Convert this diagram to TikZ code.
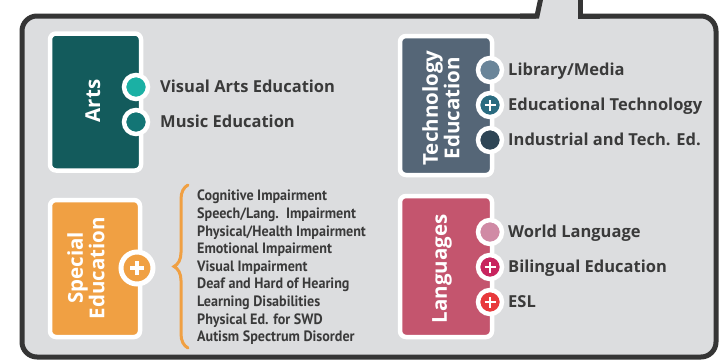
\documentclass[tikz,border=0pt]{standalone}
\usepackage{fontspec}
\setmainfont{Open Sans}
\newfontfamily\condfont[FakeStretch=0.94]{PT Sans}
\usetikzlibrary{decorations.pathreplacing}
\definecolor{bgfill}{HTML}{DCDDDF}
\definecolor{framec}{HTML}{353535}
\definecolor{txt}{HTML}{3A3A3A}
\definecolor{artsc}{HTML}{135B5C}
\definecolor{visualc}{HTML}{1BB0A4}
\definecolor{musicc}{HTML}{137575}
\definecolor{techc}{HTML}{556677}
\definecolor{libc}{HTML}{6A8599}
\definecolor{edtc}{HTML}{2A6B80}
\definecolor{indc}{HTML}{2E4555}
\definecolor{specc}{HTML}{F0A043}
\definecolor{langc}{HTML}{C4556E}
\definecolor{worldc}{HTML}{D08AA5}
\definecolor{bilc}{HTML}{C8245E}
\definecolor{eslc}{HTML}{E8393C}
\tikzset{
  catbox/.style={draw=white, line width=4.5pt, rounded corners=6pt, inner sep=0pt},
  dot/.style={circle, draw=white, line width=4.5pt, minimum size=24pt, inner sep=0pt},
  plusdot/.style={dot, path picture={
      \draw[white,line width=2.6pt] ([xshift=-5.5pt]path picture bounding box.center) -- ([xshift=5.5pt]path picture bounding box.center);
      \draw[white,line width=2.6pt] ([yshift=-5.5pt]path picture bounding box.center) -- ([yshift=5.5pt]path picture bounding box.center);}},
  bigplus/.style={circle, draw=white, line width=5pt, minimum size=32pt, inner sep=0pt, path picture={
      \draw[white,line width=3.6pt] ([xshift=-7pt]path picture bounding box.center) -- ([xshift=7pt]path picture bounding box.center);
      \draw[white,line width=3.6pt] ([yshift=-7pt]path picture bounding box.center) -- ([yshift=7pt]path picture bounding box.center);}},
  item/.style={anchor=base west, inner sep=0pt, text=txt, font=\bfseries\fontsize{16.5}{16.5}\selectfont},
  catlbl/.style={rotate=90, text=white, align=center, inner sep=0pt, font=\bfseries\fontsize{20.5}{21.5}\selectfont},
}
\begin{document}
\begin{tikzpicture}[x=1pt,y=-1pt]
\useasboundingbox (0,0) rectangle (723,362);
\fill[white] (0,0) rectangle (723,362);
% frame
\draw[framec, fill=bgfill, line width=5pt, rounded corners=15pt] (22,16) rectangle (716,357);
\fill[bgfill] (541.5,-5) -- (536.2,18.8) -- (580,18.8) -- (580,-5) -- cycle;
\draw[framec, line width=5pt] (541.5,-5) -- (537,16) -- (520,16);
\draw[framec, line width=5pt] (580,-5) -- (580,16) -- (600,16);
% Arts
\node[catbox, fill=artsc, minimum width=91pt, minimum height=137pt] (arts) at (95.5,102) {};
\node[catlbl] (artsl) at (93,101) {Arts};
\node[dot, fill=visualc] (vis) at (136,87) {};
\node[dot, fill=musicc] (mus) at (136,122) {};
\node[item] (visl) at (160,92.8) {Visual Arts Education};
\node[item] (musl) at (160,127.8) {Music Education};
% Technology
\node[catbox, fill=techc, minimum width=92pt, minimum height=139pt] (tech) at (446,105.5) {};
\node[catlbl] (techl) at (441,108) {Technology\\Education};
\node[dot, fill=libc] (lib) at (490,70) {};
\node[plusdot, fill=edtc] (edt) at (490,105) {};
\node[dot, fill=indc] (ind) at (490,140) {};
\node[item] (libl) at (508,75.8) {Library/Media};
\node[item] (edtl) at (508,110.8) {Educational Technology};
\node[item] (indl) at (508,145.8) {Industrial and Tech. Ed.};
% Special education
\node[catbox, fill=specc, minimum width=90pt, minimum height=137pt] (spec) at (95,268.5) {};
\node[catlbl] (specl) at (86,268) {Special\\Education};
\node[bigplus, fill=specc] (specp) at (137,268) {};
\coordinate (bt) at (188,185);
\coordinate (bb) at (188,348);
\draw[specc, line width=3pt, line cap=round, decorate, decoration={brace, amplitude=14pt}] (bb) -- (bt);
\node[anchor=west, inner sep=0pt, text=txt, align=left, font=\condfont\bfseries\fontsize{15}{17.6}\selectfont] (speclist) at (197,267.5)
  {Cognitive Impairment\\Speech/Lang.\ \ Impairment\\Physical/Health Impairment\\Emotional Impairment\\Visual Impairment\\Deaf and Hard of Hearing\\Learning Disabilities\\Physical Ed. for SWD\\Autism Spectrum Disorder};
% Languages
\node[catbox, fill=langc, minimum width=92pt, minimum height=141pt] (lang) at (446,266.5) {};
\node[catlbl] (langl) at (442,269) {Languages};
\node[dot, fill=worldc] (world) at (490,232) {};
\node[plusdot, fill=bilc] (bil) at (490,267) {};
\node[plusdot, fill=eslc] (esl) at (490,302) {};
\node[item] (worldl) at (508,237.8) {World Language};
\node[item] (bill) at (508,272.8) {Bilingual Education};
\node[item] (esll) at (508,307.8) {ESL};
\end{tikzpicture}
\end{document}
